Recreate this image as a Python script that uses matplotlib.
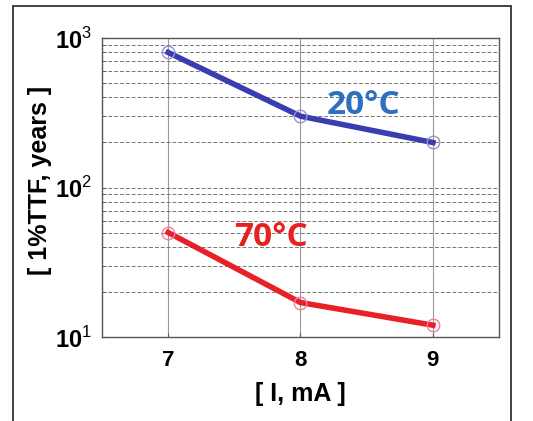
import matplotlib
matplotlib.use("Agg")
import matplotlib.pyplot as plt
from matplotlib.patches import Rectangle
from matplotlib.ticker import FixedLocator, LogLocator, NullFormatter

# data
current_ma = [7, 8, 9]
ttf_20c = [800, 300, 200]
ttf_70c = [50, 17, 12]
x_ticks = [7, 8, 9]
y_exps = [1, 2, 3]

plt.rcParams['font.family'] = ['Liberation Sans', 'DejaVu Sans']
plt.rcParams['mathtext.fontset'] = 'custom'
plt.rcParams['mathtext.rm'] = 'Liberation Sans'
plt.rcParams['mathtext.bf'] = 'Liberation Sans:bold'

fig = plt.figure(figsize=(5.33, 4.21), dpi=100)
ax = fig.add_axes([102/533, 1 - 337/421, 397/533, 299/421])

# outer frame around the whole picture
fig.patches.append(Rectangle((13/533, -0.05), 498/533, 1.05 - 6/421,
                             transform=fig.transFigure, fill=False,
                             edgecolor='#222222', linewidth=1.2))

ax.plot(current_ma, ttf_20c, color='#3a3db0', linewidth=4, marker='o',
        markersize=9, markerfacecolor='none', markeredgecolor='#9a90d0',
        markeredgewidth=1.0)
ax.plot(current_ma, ttf_70c, color='#e82028', linewidth=4, marker='o',
        markersize=9, markerfacecolor='none', markeredgecolor='#f080a0',
        markeredgewidth=1.0)

ax.set_yscale('log')
ax.set_xlim(6.5, 9.5)
ax.set_ylim(10, 1000)
ax.set_xticks(x_ticks)
ax.set_xticklabels([str(t) for t in x_ticks], fontsize=16, fontweight='bold')
ax.yaxis.set_major_locator(FixedLocator([10.0**e for e in y_exps]))
ax.set_yticklabels([r'$\mathbf{10}^{%d}$' % e for e in y_exps], fontsize=17)
ax.yaxis.set_minor_locator(LogLocator(base=10, subs=range(2, 10)))
ax.yaxis.set_minor_formatter(NullFormatter())
ax.tick_params(which='both', direction='in', length=3, color='#555555')
ax.tick_params(axis='x', pad=9)
ax.tick_params(axis='y', pad=7)

ax.grid(True, axis='x', color='#999999', linewidth=0.8, linestyle='-')
ax.grid(True, axis='y', which='both', color='#777777', linewidth=0.7,
        linestyle=(0, (4, 2)))
ax.set_axisbelow(True)
for s in ax.spines.values():
    s.set_color('#555555')
    s.set_linewidth(1.0)

ax.set_xlabel('[ I, mA ]', fontsize=18, fontweight='bold')
ax.xaxis.set_label_coords(0.5, -0.15)
ax.set_ylabel('[ 1%TTF, years ]', fontsize=18, fontweight='bold')
ax.yaxis.set_label_coords(-0.126, 0.525)

ax.text(8.48, 355, '20°C', color='#2f6fc0', fontsize=24, fontweight='bold',
        family=['Open Sans', 'DejaVu Sans'], ha='center', va='center')
ax.text(7.78, 46, '70°C', color='#e82020', fontsize=24, fontweight='bold',
        family=['Open Sans', 'DejaVu Sans'], ha='center', va='center')

fig.savefig('out.png', dpi=100)
